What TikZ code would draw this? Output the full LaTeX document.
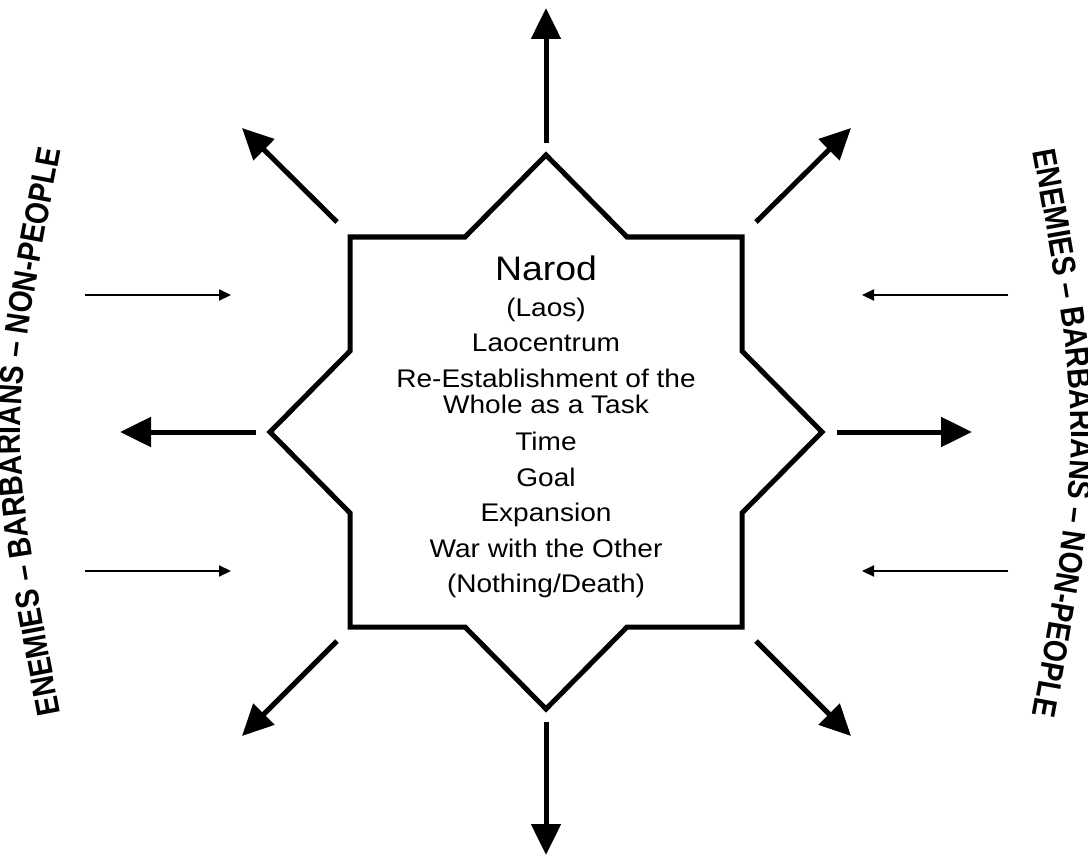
\documentclass[tikz,border=0pt]{standalone}
\usepackage{fontspec}
\setmainfont{Liberation Sans}
\newfontfamily\labelfont[FakeStretch=1.1]{Liberation Sans}
\newfontfamily\outerfont[FakeStretch=0.86]{Liberation Sans}
\usetikzlibrary{arrows.meta,decorations.text}

\begin{document}
\begin{tikzpicture}[x=1pt,y=-1pt,
  star/.style={line width=5pt, line join=miter},
  ray/.style={line width=5pt, -{Triangle[length=31pt,width=29pt]}},
  pull/.style={line width=2.2pt, -{Triangle[length=12pt,width=11pt]}},
  item/.style={anchor=base, inner sep=0pt, font=\labelfont\fontsize{25.5}{27}\selectfont},
  title/.style={anchor=base, inner sep=0pt, font=\labelfont\fontsize{34}{36}\selectfont},
  outer/.style={decorate, decoration={text along path, text align=center,
    text={|\outerfont\bfseries\fontsize{33}{33}\selectfont|ENEMIES – BARBARIANS – NON-PEOPLE}}}]

\fill[white] (0,0) rectangle (1088,856);
\useasboundingbox (0,0) rectangle (1088,856);

% eight-pointed star
\draw[star] (546,155) -- (627,237) -- (742,237) -- (742,351) -- (822,432)
  -- (742,513) -- (742,627) -- (627,627) -- (546,709) -- (465,627)
  -- (350,627) -- (350,513) -- (270,432) -- (350,351) -- (350,237)
  -- (465,237) -- cycle;

% text inside the star
\node[title] (narod) at (546,280) {Narod};
\node[item] (laos) at (546,316) {(Laos)};
\node[item] (laoc) at (546,351) {Laocentrum};
\node[item] (whole1) at (546,387) {Re-Establishment of the};
\node[item] (whole2) at (546,413) {Whole as a Task};
\node[item] (time) at (546,450) {Time};
\node[item] (goal) at (546,486) {Goal};
\node[item] (expan) at (546,521) {Expansion};
\node[item] (war) at (546,557) {War with the Other};
\node[item] (death) at (546,592) {(Nothing/Death)};

% outward rays
\coordinate (n0) at (546,143);  \coordinate (n1) at (546,8);
\coordinate (s0) at (546,722);  \coordinate (s1) at (546,855);
\coordinate (w0) at (256,432);  \coordinate (w1) at (120,432);
\coordinate (e0) at (837,432);  \coordinate (e1) at (972,432);
\coordinate (nw0) at (337,222); \coordinate (nw1) at (242,128);
\coordinate (ne0) at (756,222); \coordinate (ne1) at (851,128);
\coordinate (sw0) at (337,641); \coordinate (sw1) at (242,736);
\coordinate (se0) at (756,641); \coordinate (se1) at (851,736);
\foreach \d in {n,s,w,e,nw,ne,sw,se}
  \draw[ray] (\d0) -- (\d1);

% inward pressure
\coordinate (lu0) at (85,295);   \coordinate (lu1) at (231,295);
\coordinate (ld0) at (85,571);   \coordinate (ld1) at (231,571);
\coordinate (ru0) at (1008,295); \coordinate (ru1) at (862,295);
\coordinate (rd0) at (1008,571); \coordinate (rd1) at (862,571);
\foreach \d in {lu,ld,ru,rd}
  \draw[pull] (\d0) -- (\d1);

% outer labels
\path[outer] (61,716) .. controls (7,432) .. (61,148);
\path[outer] (1032,148) .. controls (1084,432) .. (1032,718);
\end{tikzpicture}
\end{document}
